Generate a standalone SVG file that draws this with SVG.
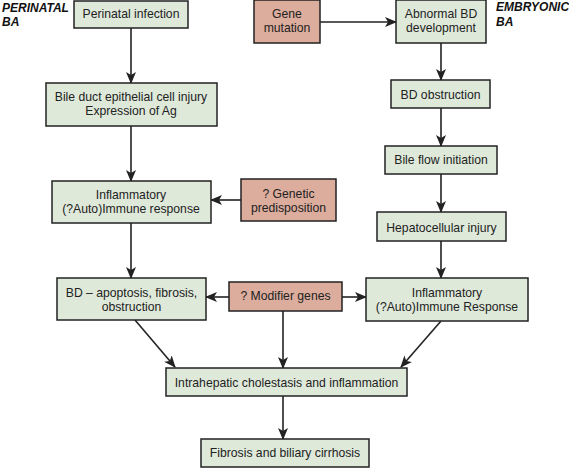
<svg xmlns="http://www.w3.org/2000/svg" width="569" height="468" viewBox="0 0 569 468">
<defs>
<style>
.g{fill:#dfe9da;stroke:#222;stroke-width:1.5}
.p{fill:#dcac9c;stroke:#222;stroke-width:1.5}
.t{font-family:"Liberation Sans",Arial,sans-serif;font-size:12.2px;fill:#222;text-anchor:middle}
.h{font-family:"Liberation Sans",Arial,sans-serif;font-size:12px;font-weight:bold;font-style:italic;fill:#111}
.c{stroke:#222;stroke-width:1.6;fill:none;marker-end:url(#a)}
</style>
<marker id="a" markerUnits="userSpaceOnUse" markerWidth="12" markerHeight="10" refX="11" refY="5" orient="auto" viewBox="0 0 12 10">
<path d="M0,0 L12,5 L0,10 L3,5 z" fill="#222"/>
</marker>
</defs>
<rect width="569" height="468" fill="#fff"/>
<text class="h" x="2" y="12">PERINATAL</text>
<text class="h" x="2" y="26">BA</text>
<text class="h" x="496" y="11">EMBRYONIC</text>
<text class="h" x="496" y="26">BA</text>
<g id="connectors">
<line class="c" x1="131" y1="28" x2="131" y2="83"/>
<line class="c" x1="131" y1="126" x2="131" y2="181"/>
<line class="c" x1="241" y1="200" x2="211" y2="200"/>
<line class="c" x1="131" y1="223" x2="131" y2="278"/>
<line class="c" x1="320" y1="22" x2="396" y2="22"/>
<line class="c" x1="441" y1="43" x2="441" y2="80"/>
<line class="c" x1="441" y1="108" x2="441" y2="146"/>
<line class="c" x1="441" y1="174" x2="441" y2="212"/>
<line class="c" x1="441" y1="241" x2="441" y2="278"/>
<line class="c" x1="229" y1="297" x2="206" y2="297"/>
<line class="c" x1="342" y1="297" x2="366" y2="297"/>
<line class="c" x1="283" y1="311" x2="283" y2="368"/>
<line class="c" x1="135" y1="320" x2="175" y2="367"/>
<line class="c" x1="441" y1="321" x2="401" y2="367"/>
<line class="c" x1="283" y1="396" x2="283" y2="439"/>
</g>
<g id="perinatal-infection"><rect class="g" x="74" y="1" width="114" height="27"/><text class="t" x="131" y="18">Perinatal infection</text></g>
<g id="bile-duct-injury"><rect class="g" x="46" y="83" width="171" height="43"/><text class="t" x="131" y="101">Bile duct epithelial cell injury</text><text class="t" x="131" y="115">Expression of Ag</text></g>
<g id="inflammatory-left"><rect class="g" x="52" y="181" width="159" height="42"/><text class="t" x="131" y="199">Inflammatory</text><text class="t" x="131" y="213">(?Auto)Immune response</text></g>
<g id="genetic-predisposition"><rect class="p" x="241" y="179" width="95" height="42"/><text class="t" x="288.5" y="198">? Genetic</text><text class="t" x="288.5" y="212">predisposition</text></g>
<g id="gene-mutation"><rect class="p" x="254" y="0" width="66" height="43"/><text class="t" x="287" y="18">Gene</text><text class="t" x="287" y="32">mutation</text></g>
<g id="abnormal-bd"><rect class="g" x="396" y="0" width="90" height="43"/><text class="t" x="441" y="18">Abnormal BD</text><text class="t" x="441" y="32">development</text></g>
<g id="bd-obstruction"><rect class="g" x="391" y="80" width="99" height="28"/><text class="t" x="440.5" y="99">BD obstruction</text></g>
<g id="bile-flow"><rect class="g" x="385" y="146" width="112" height="28"/><text class="t" x="441" y="164">Bile flow initiation</text></g>
<g id="hepatocellular-injury"><rect class="g" x="377" y="212" width="129" height="29"/><text class="t" x="441.5" y="232">Hepatocellular injury</text></g>
<g id="inflammatory-right"><rect class="g" x="366" y="278" width="162" height="43"/><text class="t" x="447" y="297">Inflammatory</text><text class="t" x="447" y="311">(?Auto)Immune Response</text></g>
<g id="bd-apoptosis"><rect class="g" x="57" y="278" width="149" height="42"/><text class="t" x="131.5" y="297">BD – apoptosis, fibrosis,</text><text class="t" x="131.5" y="311">obstruction</text></g>
<g id="modifier-genes"><rect class="p" x="229" y="282" width="113" height="29"/><text class="t" x="285.5" y="300">? Modifier genes</text></g>
<g id="intrahepatic"><rect class="g" x="166" y="368" width="241" height="28"/><text class="t" x="286.5" y="387">Intrahepatic cholestasis and inflammation</text></g>
<g id="fibrosis"><rect class="g" x="201" y="439" width="168" height="28"/><text class="t" x="285" y="457">Fibrosis and biliary cirrhosis</text></g>
</svg>
